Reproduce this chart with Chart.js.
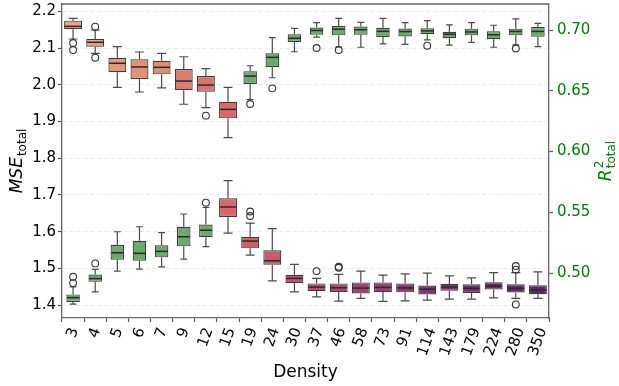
<!DOCTYPE html>
<html><head><meta charset="utf-8">
<script src="https://cdn.jsdelivr.net/npm/chart.js@4"></script>
<style>html,body{margin:0;padding:0;background:#fff}</style>
</head><body>
<canvas id="c" width="619" height="386" style="display:block"></canvas>
<script>
// ---------- data ----------
const densities = ['3','4','5','6','7','9','12','15','19','24','30','37','46','58','73','91','114','143','179','224','280','350'];

// R²_total (upper group, right axis)
const r2Hi  = [0.7096,0.7000,0.6863,0.6819,0.6808,0.6780,0.6682,0.6528,0.6706,0.6937,0.7014,0.7060,0.7096,0.7062,0.7095,0.7060,0.7077,0.7043,0.7060,0.7039,0.7092,0.7055];
const r2Q3  = [0.7077,0.6926,0.6772,0.6759,0.6747,0.6679,0.6621,0.6410,0.6660,0.6808,0.6965,0.7021,0.7033,0.7029,0.7018,0.7012,0.7015,0.6986,0.7011,0.6989,0.7011,0.7025];
const r2Med = [0.7030,0.6899,0.6726,0.6696,0.6693,0.6580,0.6547,0.6347,0.6621,0.6775,0.6932,0.6996,0.7007,0.7002,0.6989,0.6987,0.6993,0.6965,0.6984,0.6961,0.6988,0.6988];
const r2Q1  = [0.7006,0.6863,0.6652,0.6597,0.6635,0.6504,0.6492,0.6273,0.6556,0.6693,0.6901,0.6961,0.6956,0.6961,0.6942,0.6947,0.6965,0.6933,0.6956,0.6924,0.6956,0.6944];
const r2Lo  = [0.6926,0.6808,0.6528,0.6490,0.6523,0.6389,0.6361,0.6115,0.6428,0.6607,0.6821,0.6941,0.6860,0.6858,0.6886,0.6882,0.6918,0.6875,0.6899,0.6858,0.6877,0.6863];
const r2Out = [[0.6893,0.6835],[0.7027,0.6772],[],[],[],[],[0.6295],[],[0.6391],[0.6520],[],[0.6852],[0.6835],[],[],[],[0.6871],[],[],[],[0.6848],[]];

// MSE_total (lower group, left axis)
const mseHi  = [1.4499,1.4976,1.5999,1.6135,1.5972,1.6482,1.6659,1.7390,1.6236,1.6081,1.5110,1.4728,1.4837,1.4927,1.4818,1.4851,1.4873,1.4799,1.4742,1.4886,1.4886,1.4905];
const mseQ3  = [1.4292,1.4832,1.5636,1.5753,1.5628,1.6135,1.6195,1.6910,1.5863,1.5492,1.4826,1.4592,1.4592,1.4619,1.4619,1.4592,1.4532,1.4578,1.4567,1.4622,1.4567,1.4540];
const mseMed = [1.4205,1.4723,1.5426,1.5410,1.5464,1.5863,1.6040,1.6673,1.5745,1.5208,1.4728,1.4491,1.4472,1.4464,1.4483,1.4469,1.4436,1.4491,1.4458,1.4518,1.4455,1.4417];
const mseQ1  = [1.4087,1.4635,1.5235,1.5208,1.5301,1.5601,1.5849,1.6400,1.5546,1.5099,1.4600,1.4382,1.4355,1.4319,1.4355,1.4349,1.4292,1.4390,1.4333,1.4423,1.4346,1.4295];
const mseLo  = [1.4027,1.4360,1.4927,1.4982,1.5044,1.5254,1.5595,1.5963,1.5364,1.4663,1.4363,1.4226,1.4109,1.4183,1.4101,1.4117,1.4136,1.4164,1.4164,1.4196,1.4183,1.4183];
const mseOut = [[1.4772,1.4600],[1.5137],[],[],[],[],[1.6790],[],[1.6550,1.6427],[],[],[1.4927],[1.5017,1.5045],[],[],[],[],[],[],[],[1.5064,1.4968,1.4019],[]];

// ---------- styles ----------
const GREEN = '#6BAA6C';
const r2Colors = ['#EAA67B','#E7A07A','#E39A77','#E09176','#DE8C75','#DA7C70','#D8746E','#D6676B',
  GREEN,GREEN,GREEN,GREEN,GREEN,GREEN,GREEN,GREEN,GREEN,GREEN,GREEN,GREEN,GREEN,GREEN];
const mseColors = [GREEN,GREEN,GREEN,GREEN,GREEN,GREEN,GREEN,'#D6676B','#D2606B','#C85A6C','#BD5470','#B24E72',
  '#A94873','#A04475','#983F75','#8D3A74','#853672','#7C3271','#742F6E','#6C2C6B','#632967','#5C2764'];
const FONT = '"DejaVu Sans", sans-serif';
const EDGE = '#3c3c3c';

function boxData(q1, q3, colors, narrow) {
  return q1.map((v, i) => ((colors[i] === GREEN) === narrow) ? [q1[i], q3[i]] : null);
}
function boxDataset(label, q1, q3, colors, narrow, axis) {
  return {
    label, data: boxData(q1, q3, colors, narrow), backgroundColor: colors, yAxisID: axis,
    borderColor: EDGE, borderWidth: 1.2, borderSkipped: false, grouped: false,
    categoryPercentage: 1, barPercentage: narrow ? 0.61 : 0.81
  };
}

const groups = [
  {axis: 'y',  hi: mseHi, med: mseMed, lo: mseLo, q1: mseQ1, q3: mseQ3, out: mseOut, sets: [0, 1]},
  {axis: 'y2', hi: r2Hi,  med: r2Med,  lo: r2Lo,  q1: r2Q1,  q3: r2Q3,  out: r2Out,  sets: [2, 3]}
];

function elemFor(chart, g, i) {
  for (const d of g.sets) {
    if (chart.data.datasets[d].data[i] != null) return chart.getDatasetMeta(d).data[i];
  }
  return null;
}

const boxPlugin = {
  id: 'boxParts',
  beforeDatasetsDraw(chart) {
    const ctx = chart.ctx;
    ctx.save();
    ctx.strokeStyle = '#4a4a4a'; ctx.lineWidth = 1.2;
    for (const g of groups) {
      const ys = chart.scales[g.axis];
      densities.forEach((_, i) => {
        const el = elemFor(chart, g, i); if (!el) return;
        const x = el.x, hw = el.width / 4;
        ctx.beginPath();
        ctx.moveTo(x, ys.getPixelForValue(g.q3[i])); ctx.lineTo(x, ys.getPixelForValue(g.hi[i]));
        ctx.moveTo(x, ys.getPixelForValue(g.q1[i])); ctx.lineTo(x, ys.getPixelForValue(g.lo[i]));
        ctx.moveTo(x - hw, ys.getPixelForValue(g.hi[i])); ctx.lineTo(x + hw, ys.getPixelForValue(g.hi[i]));
        ctx.moveTo(x - hw, ys.getPixelForValue(g.lo[i])); ctx.lineTo(x + hw, ys.getPixelForValue(g.lo[i]));
        ctx.stroke();
      });
    }
    ctx.restore();
  },
  afterDatasetsDraw(chart) {
    const ctx = chart.ctx;
    ctx.save();
    for (const g of groups) {
      const ys = chart.scales[g.axis];
      densities.forEach((_, i) => {
        const el = elemFor(chart, g, i); if (!el) return;
        const x = el.x, hw = el.width / 2 - 0.6;
        const ym = ys.getPixelForValue(g.med[i]);
        ctx.strokeStyle = '#2a2a2a'; ctx.lineWidth = 1.5;
        ctx.beginPath(); ctx.moveTo(x - hw, ym); ctx.lineTo(x + hw, ym); ctx.stroke();
        ctx.strokeStyle = '#333'; ctx.lineWidth = 1.1;
        for (const v of g.out[i]) {
          ctx.beginPath(); ctx.arc(x, ys.getPixelForValue(v), 3.4, 0, Math.PI * 2); ctx.stroke();
        }
      });
    }
    ctx.restore();
  },
  afterDraw(chart) {
    const ctx = chart.ctx, a = chart.chartArea, xs = chart.scales.x;
    ctx.save();
    // top spine
    ctx.strokeStyle = '#666'; ctx.lineWidth = 1.3;
    ctx.beginPath(); ctx.moveTo(a.left, a.top); ctx.lineTo(a.right, a.top); ctx.stroke();
    // rotated x tick labels (centered, rotation 70°)
    ctx.fillStyle = '#000'; ctx.font = '15px ' + FONT;
    ctx.textAlign = 'center'; ctx.textBaseline = 'middle';
    const ang = 70 * Math.PI / 180, h = 15 * 1.17;
    densities.forEach((lab, i) => {
      const x = xs.getPixelForTick(i);
      const w = ctx.measureText(lab).width;
      const bh = w * Math.sin(ang) + h * Math.cos(ang);
      ctx.save(); ctx.translate(x, a.bottom + 7.5 + bh / 2); ctx.rotate(-ang);
      ctx.fillText(lab, 0, 0); ctx.restore();
    });
    // x title
    ctx.font = '17px ' + FONT; ctx.textBaseline = 'alphabetic';
    ctx.fillText('Density', (a.left + a.right) / 2, 377);
    // y titles
    mathLabel(ctx, 16, (a.top + a.bottom) / 2, 'MSE', null, 'total', 17, '#000');
    mathLabel(ctx, 605, (a.top + a.bottom) / 2, 'R', '2', 'total', 17, '#008000');
    ctx.restore();
  }
};

function mathLabel(ctx, cx, cy, base, sup, sub, size, color) {
  ctx.save(); ctx.translate(cx, cy); ctx.rotate(-Math.PI / 2);
  ctx.fillStyle = color; ctx.textAlign = 'left'; ctx.textBaseline = 'alphabetic';
  const fB = 'italic ' + size + 'px ' + FONT, fS = Math.round(size * 0.7) + 'px ' + FONT;
  ctx.font = fB; const wB = ctx.measureText(base).width;
  ctx.font = fS; const wSub = ctx.measureText(sub).width; const wSup = sup ? ctx.measureText(sup).width : 0;
  const total = wB + 1 + Math.max(wSub, wSup);
  const x0 = -total / 2, by = size * 0.36;
  ctx.font = fB; ctx.fillText(base, x0, by);
  ctx.font = fS;
  if (sup) ctx.fillText(sup, x0 + wB + 1, by - size * 0.45);
  ctx.fillText(sub, x0 + wB + 1, by + size * 0.24);
  ctx.restore();
}

Chart.defaults.font.family = FONT;
new Chart(document.getElementById('c'), {
  type: 'bar',
  data: {
    labels: densities,
    datasets: [
      boxDataset('MSE', mseQ1, mseQ3, mseColors, false, 'y'),
      boxDataset('MSE g', mseQ1, mseQ3, mseColors, true, 'y'),
      boxDataset('R2', r2Q1, r2Q3, r2Colors, false, 'y2'),
      boxDataset('R2 g', r2Q1, r2Q3, r2Colors, true, 'y2')
    ]
  },
  options: {
    responsive: false, animation: false, devicePixelRatio: 1,
    layout: {padding: {top: 4, left: 0, right: 0, bottom: 0}},
    plugins: {legend: {display: false}, tooltip: {enabled: false}},
    scales: {
      x: {
        type: 'category', offset: true,
        grid: {display: true, drawOnChartArea: false, drawTicks: true, tickLength: 4, tickColor: '#555', tickWidth: 1.2},
        border: {color: '#666', width: 1.3},
        ticks: {display: false},
        afterFit(s) { s.height = 68; s.paddingLeft = 0; s.paddingRight = 0; }
      },
      y: {
        position: 'left', min: 1.365, max: 2.22,
        ticks: {stepSize: 0.1, includeBounds: false, color: '#000', font: {size: 15}, padding: 2,
          callback: v => v.toFixed(1)},
        grid: {color: '#e4e4e4', lineWidth: 0.8, tickColor: '#555', tickLength: 4, tickWidth: 1.2},
        border: {color: '#666', width: 1.3, dash: [4, 3]},
        afterFit(s) { s.width = 62; s.paddingTop = 0; s.paddingBottom = 0; }
      },
      y2: {
        position: 'right', min: 0.463, max: 0.7214,
        ticks: {stepSize: 0.05, includeBounds: false, color: '#008000', font: {size: 15}, padding: 4,
          callback: v => v.toFixed(2)},
        grid: {drawOnChartArea: false, tickColor: '#555', tickLength: 4, tickWidth: 1.2},
        border: {color: '#666', width: 1.3},
        afterFit(s) { s.width = 70; s.paddingTop = 0; s.paddingBottom = 0; }
      }
    }
  },
  plugins: [boxPlugin]
});
</script>
</body></html>
